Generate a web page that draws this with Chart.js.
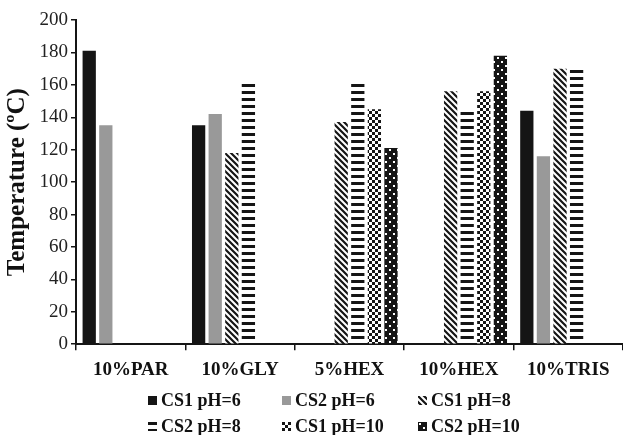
<!DOCTYPE html>
<html>
<head>
<meta charset="utf-8">
<script src="https://cdn.jsdelivr.net/npm/chart.js@4/dist/chart.umd.min.js"></script>
<style>
  html, body { margin: 0; padding: 0; background: #fff; }
  #wrap { position: relative; width: 623px; height: 435px; }
  #legend { position: absolute; left: 0; top: 0; width: 623px; height: 435px; pointer-events: none; }
  .item { position: absolute; display: flex; align-items: center; height: 20px; margin-top: -10px;
          font: bold 18px "Liberation Serif", "Times New Roman", serif; color: #111; white-space: nowrap; }
  .item canvas { margin-right: 4px; }
</style>
</head>
<body>
<div id="wrap">
  <canvas id="myChart" width="623" height="435"></canvas>
  <div id="legend"></div>
</div>
<script>
// data
var categories = ["10%PAR", "10%GLY", "5%HEX", "10%HEX", "10%TRIS"];
var seriesNames = ["CS1 pH=6", "CS2 pH=6", "CS1 pH=8", "CS2 pH=8", "CS1 pH=10", "CS2 pH=10"];
var cs1ph6  = [181, 135, null, null, 144];
var cs2ph6  = [135, 142, null, null, 116];
var cs1ph8  = [null, 118, 137, 156, 170];
var cs2ph8  = [null, 161, 161, 145, 170];
var cs1ph10 = [null, null, 145, 156, null];
var cs2ph10 = [null, null, 121, 178, null];
var yTicks = [0, 20, 40, 60, 80, 100, 120, 140, 160, 180, 200];
var yTitle = "Temperature (ºC)";

var serif = '"Liberation Serif", "Times New Roman", serif';
var ink = "#151515";

// fill patterns for the hatched bars
function makePattern(kind) {
  var c = document.createElement("canvas");
  var g = c.getContext("2d");
  if (kind === "solid") {
    return ink;
  }
  if (kind === "gray") {
    return "#999999";
  }
  if (kind === "diag") {
    c.width = 6; c.height = 6;
    g.fillStyle = "#fff"; g.fillRect(0, 0, 6, 6);
    g.strokeStyle = ink; g.lineWidth = 2.2;
    g.beginPath();
    g.moveTo(-2, -2); g.lineTo(8, 8);
    g.moveTo(-2, 4); g.lineTo(4, 10);
    g.moveTo(4, -2); g.lineTo(10, 4);
    g.stroke();
  } else if (kind === "hstripe") {
    c.width = 4; c.height = 7;
    g.fillStyle = "#fff"; g.fillRect(0, 0, 4, 7);
    g.fillStyle = ink; g.fillRect(0, 0, 4, 3);
  } else if (kind === "checker") {
    c.width = 6; c.height = 6;
    g.fillStyle = "#fff"; g.fillRect(0, 0, 6, 6);
    g.fillStyle = ink;
    g.fillRect(0, 0, 3, 3);
    g.fillRect(3, 3, 3, 3);
  } else if (kind === "dots") {
    c.width = 8; c.height = 8;
    g.fillStyle = ink; g.fillRect(0, 0, 8, 8);
    g.fillStyle = "#fff";
    g.fillRect(1, 1, 2, 2);
    g.fillRect(5, 5, 2, 2);
  }
  var main = document.createElement("canvas").getContext("2d");
  return main.createPattern(c, "repeat");
}

var fills = [
  makePattern("solid"),
  makePattern("gray"),
  makePattern("diag"),
  makePattern("hstripe"),
  makePattern("checker"),
  makePattern("dots")
];
var values = [cs1ph6, cs2ph6, cs1ph8, cs2ph8, cs1ph10, cs2ph10];

var datasets = values.map(function (v, i) {
  return {
    label: seriesNames[i],
    data: v,
    backgroundColor: fills[i],
    borderWidth: 0
  };
});

var chart = new Chart("myChart", {
  type: "bar",
  data: {
    labels: categories,
    datasets: datasets
  },
  options: {
    responsive: false,
    animation: false,
    layout: { padding: { top: 20, right: -3, bottom: 46, left: 0 } },
    datasets: { bar: { categoryPercentage: 0.91, barPercentage: 0.8 } },
    plugins: {
      legend: { display: false },
      tooltip: { enabled: false }
    },
    scales: {
      x: {
        grid: { drawOnChartArea: false, drawTicks: true, tickLength: 6, color: ink, lineWidth: 1.5 },
        border: { color: ink, width: 2 },
        ticks: { font: { family: serif, size: 19, weight: "bold" }, color: "#111", padding: 8 }
      },
      y: {
        min: 0,
        max: 200,
        afterBuildTicks: function (s) {
          s.ticks = yTicks.map(function (t) { return { value: t }; });
        },
        afterFit: function (s) { s.width = 76; },
        grid: { drawOnChartArea: false, drawTicks: true, tickLength: 5, color: ink, lineWidth: 1.5 },
        border: { color: ink, width: 2 },
        ticks: { font: { family: serif, size: 19 }, color: "#222", padding: 3 },
        title: {
          display: true,
          text: yTitle,
          color: "#111",
          font: { family: serif, size: 25, weight: "bold" },
          padding: { top: 3, bottom: 0 }
        }
      }
    }
  }
});

// legend: 3 columns, 2 rows under the axis
var colX = [148, 282, 418];
var rowY = [400, 426];
var legend = document.getElementById("legend");
chart.data.datasets.forEach(function (ds, i) {
  var item = document.createElement("div");
  item.className = "item";
  item.style.left = colX[i % 3] + "px";
  item.style.top = rowY[Math.floor(i / 3)] + "px";
  var sw = document.createElement("canvas");
  sw.width = 9; sw.height = 9;
  var sg = sw.getContext("2d");
  sg.fillStyle = ds.backgroundColor;
  sg.fillRect(0, 0, 9, 9);
  item.appendChild(sw);
  item.appendChild(document.createTextNode(ds.label));
  legend.appendChild(item);
});
</script>
</body>
</html>
